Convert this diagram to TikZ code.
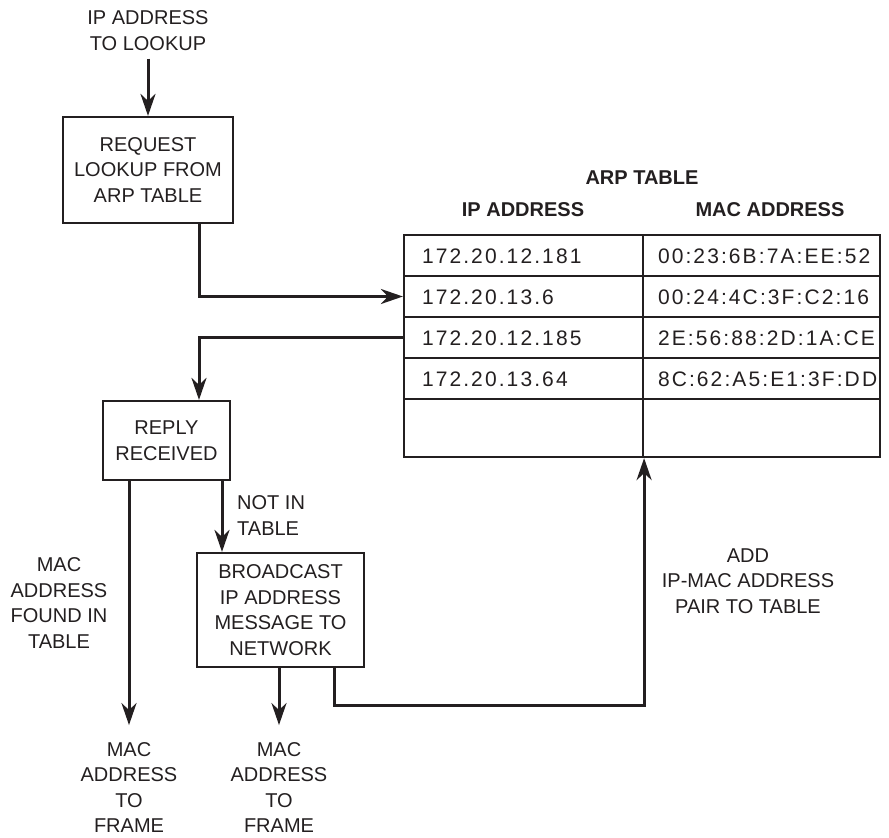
\documentclass[tikz,border=0pt]{standalone}
\usepackage{fontspec}
\setmainfont{Liberation Sans}
\usetikzlibrary{arrows.meta,calc}
\definecolor{ink}{HTML}{231F20}
\newfontfamily\cellfont[LetterSpace=10]{Liberation Sans}

\begin{document}
\begin{tikzpicture}[x=1pt,y=-1pt,
  font=\fontsize{20}{25.5}\selectfont,
  every node/.style={text=ink},
  lbl/.style={align=center,inner sep=0pt},
  box/.style={draw=ink,line width=2.2pt,align=center,inner sep=0pt},
  wire/.style={draw=ink,line width=3pt},
  flow/.style={wire,-{Stealth[length=22pt,width=15pt,inset=7pt]}},
  ipcell/.style={draw=ink,line width=2.2pt,text width=203pt,inner xsep=18pt,inner ysep=0pt,
    text height=15pt,text depth=0pt,align=left,font=\cellfont\fontsize{21}{25}\selectfont},
  maccell/.style={ipcell,text width=207pt,inner xsep=15pt}]
  \useasboundingbox (0,0) rectangle (889,838);

  % request side
  \node[lbl] (lookup) at (148,30.5) {IP ADDRESS\\TO LOOKUP};
  \node[box,minimum width=170pt,minimum height=106pt] (request) at (148,170) {REQUEST\\LOOKUP FROM\\ARP TABLE};
  \draw[flow] ([yshift=-8pt]lookup.south) -- (request.north);

  % arp table
  \node[lbl,font=\fontsize{20}{25}\selectfont\bfseries] (arptitle) at (642,178) {ARP TABLE};
  \node[lbl,font=\fontsize{20}{25}\selectfont\bfseries] (iphead) at (523,210) {IP ADDRESS};
  \node[lbl,font=\fontsize{20}{25}\selectfont\bfseries] (machead) at (770,210) {MAC ADDRESS};
  \foreach \r/\yc/\rowh/\ip/\mac in {1/255.5/41/172.20.12.181/00:23:6B:7A:EE:52,
      2/296.5/41/172.20.13.6/00:24:4C:3F:C2:16,
      3/337.5/41/172.20.12.185/2E:56:88:2D:1A:CE,
      4/378.5/41/172.20.13.64/8C:62:A5:E1:3F:DD,
      5/428/58/{}/{}}{
    \node[ipcell,minimum height=\rowh pt] (ip\r) at (523.5,\yc) {\ip};
    \node[maccell,minimum height=\rowh pt] (mac\r) at (761.5,\yc) {\mac};
  }
  \draw[flow] ([xshift=51pt]request.south) |- (ip2.west);

  % reply side
  \node[box,minimum width=127pt,minimum height=79pt] (reply) at (166.5,440.5) {REPLY\\RECEIVED};
  \draw[flow] (ip3.west) -| ([xshift=32.5pt]reply.north);
  \node[box,minimum width=167pt,minimum height=114pt] (broadcast) at (280.5,610) {BROADCAST\\IP ADDRESS\\MESSAGE TO\\NETWORK};
  \draw[flow] ([xshift=55.5pt]reply.south) -- ([xshift=55.5pt]reply.south |- broadcast.north);
  \node[lbl,align=left,anchor=west] (notin) at (237,515.5) {NOT IN\\TABLE};

  \node[lbl] (found) at (59,603) {MAC\\ADDRESS\\FOUND IN\\TABLE};
  \node[lbl] (frameA) at (129,787.5) {MAC\\ADDRESS\\TO\\FRAME};
  \node[lbl] (frameB) at (279,787.5) {MAC\\ADDRESS\\TO\\FRAME};
  \draw[flow] ([xshift=-37.5pt]reply.south) -- ([yshift=17pt]frameA.north);
  \draw[flow] (broadcast.south -| frameB) -- ([yshift=17pt]frameB.north);

  % add pair back to table
  \coordinate (back) at (334,705);
  \draw[flow] (broadcast.south -| back) -- (back) -| (ip5.south east);
  \node[lbl] (addpair) at (748,581) {ADD\\IP-MAC ADDRESS\\PAIR TO TABLE};
\end{tikzpicture}
\end{document}
